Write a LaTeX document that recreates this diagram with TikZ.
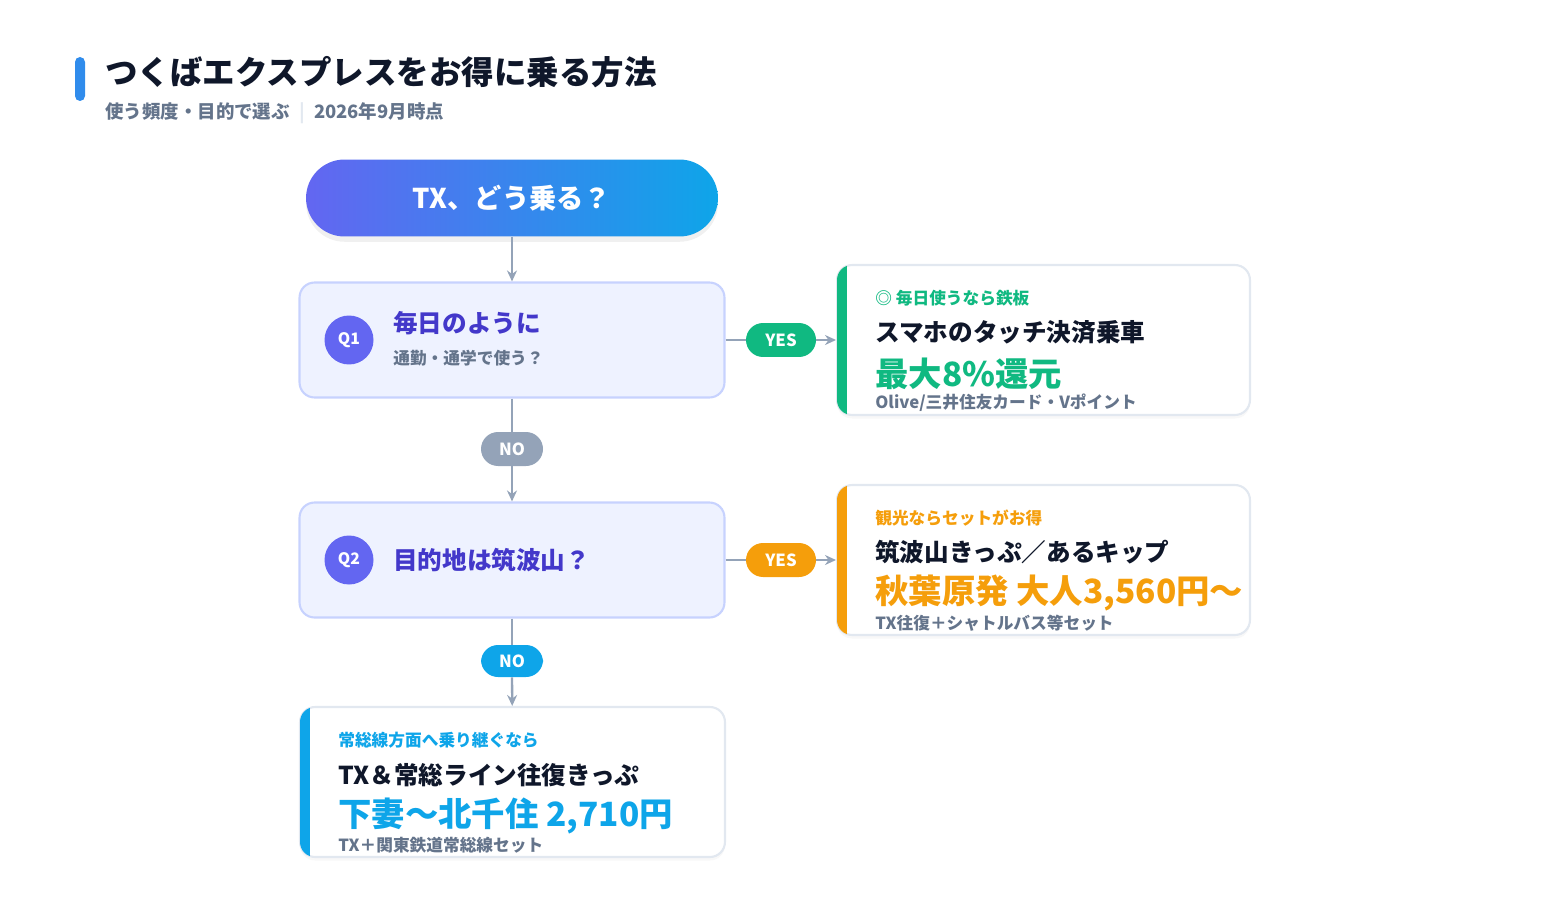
\documentclass[tikz,border=0pt]{standalone}
\usepackage{fontspec}
\setmainfont{Noto Sans CJK JP}
\usetikzlibrary{arrows.meta,positioning,shadows}
\definecolor{indigo}{HTML}{6366F1}
\definecolor{sky}{HTML}{0EA5E9}
\definecolor{slate}{HTML}{94A3B8}
\definecolor{ink}{HTML}{0F172A}
\definecolor{mute}{HTML}{64748B}
\definecolor{qfill}{HTML}{EEF2FF}
\definecolor{qline}{HTML}{C7D2FE}
\definecolor{qtext}{HTML}{4338CA}
\definecolor{green}{HTML}{10B981}
\definecolor{amber}{HTML}{F59E0B}
\definecolor{cardline}{HTML}{E2E8F0}
\tikzset{
    qbox/.style={draw=qline, fill=qfill, line width=1.2pt, rounded corners=0.3cm,
        minimum width=8.5cm, minimum height=2.3cm},
    qnum/.style={circle, fill=indigo, text=white, minimum size=0.98cm, inner sep=0pt,
        font=\fontsize{9}{9}\selectfont\bfseries},
    pill/.style={rounded corners=0.34cm, text=white, minimum height=0.68cm, inner sep=0pt,
        font=\fontsize{9.5}{9.5}\selectfont\bfseries},
    card/.style={draw=cardline, fill=white, line width=1.2pt, rounded corners=0.3cm,
        drop shadow={opacity=0.06, shadow xshift=0pt, shadow yshift=-2pt}},
    flow/.style={draw=slate, line width=1.3pt, -{Stealth[length=2.2mm, width=2mm]}},
    tag/.style={anchor=west, inner sep=0pt, font=\fontsize{9.5}{11}\selectfont\bfseries},
    head/.style={anchor=west, inner sep=0pt, text=ink, font=\fontsize{14}{16}\selectfont\bfseries},
    price/.style={anchor=west, inner sep=0pt, font=\fontsize{19}{21}\selectfont\bfseries},
    note/.style={anchor=west, inner sep=0pt, text=mute, font=\fontsize{9.5}{11}\selectfont\bfseries}
}
\begin{document}
\begin{tikzpicture}[x=0.02cm, y=-0.02cm]
    \useasboundingbox (0,0) rectangle (1550,912);
    % Title
    \fill[sky!60!indigo, rounded corners=0.1cm] (75,57) rectangle (85,101);
    \node[anchor=west, inner sep=0pt, text=ink, font=\fontsize{18.5}{20}\selectfont\bfseries] (title) at (105,72) {つくばエクスプレスをお得に乗る方法};
    \node[anchor=west, inner sep=0pt, text=mute, font=\fontsize{10.5}{12}\selectfont\bfseries] (sub) at (105,113) {使う頻度・目的で選ぶ\enspace\textcolor{cardline}{|}\enspace 2026年9月時点};

    % Start
    \node[rounded corners=0.77cm, left color=indigo, right color=sky, text=white,
        minimum width=8.24cm, minimum height=1.54cm, font=\fontsize{15.5}{17}\selectfont\bfseries,
        drop shadow={opacity=0.12, shadow xshift=0pt, shadow yshift=-3pt}] (start) at (512,198) {TX、どう乗る？};

    % Questions
    \node[qbox] (q1) at (512,340) {};
    \node[qnum] (n1) at (349,340) {Q1};
    \node[anchor=west, inner sep=0pt, text=qtext, font=\fontsize{14}{16}\selectfont\bfseries] (q1t) at (393,323) {毎日のように};
    \node[anchor=west, inner sep=0pt, text=mute, font=\fontsize{9.5}{11}\selectfont\bfseries] (q1s) at (393,358) {通勤・通学で使う？};

    \node[qbox] (q2) at (512,560) {};
    \node[qnum] (n2) at (349,560) {Q2};
    \node[anchor=west, inner sep=0pt, text=qtext, font=\fontsize{14}{16}\selectfont\bfseries] (q2t) at (393,560) {目的地は筑波山？};

    % Result cards
    \node[card, minimum width=8.26cm, minimum height=3cm] (c1) at (1043.5,340) {};
    \begin{scope}
        \clip[rounded corners=0.3cm] (837,265) rectangle (1250,415);
        \fill[green] (837,265) rectangle (847,415);
    \end{scope}
    \node[tag, text=green] (c1a) at (875,298) {◎ 毎日使うなら鉄板};
    \node[head] (c1b) at (875,332) {スマホのタッチ決済乗車};
    \node[price, text=green] (c1c) at (875,374) {最大8\%還元};
    \node[note] (c1d) at (875,403) {Olive/三井住友カード・Vポイント};

    \node[card, minimum width=8.26cm, minimum height=3cm] (c2) at (1043.5,560) {};
    \begin{scope}
        \clip[rounded corners=0.3cm] (837,485) rectangle (1250,635);
        \fill[amber] (837,485) rectangle (847,635);
    \end{scope}
    \node[tag, text=amber] (c2a) at (875,518) {観光ならセットがお得};
    \node[head] (c2b) at (875,552) {筑波山きっぷ／あるキップ};
    \node[price, text=amber] (c2c) at (875,593) {秋葉原発 大人3,560円～};
    \node[note] (c2d) at (875,623) {TX往復＋シャトルバス等セット};

    \node[card, minimum width=8.5cm, minimum height=3cm] (c3) at (512.5,782) {};
    \begin{scope}
        \clip[rounded corners=0.3cm] (300,707) rectangle (725,857);
        \fill[sky] (300,707) rectangle (310,857);
    \end{scope}
    \node[tag, text=sky] (c3a) at (338,740) {常総線方面へ乗り継ぐなら};
    \node[head] (c3b) at (338,775) {TX＆常総ライン往復きっぷ};
    \node[price, text=sky] (c3c) at (338,816) {下妻～北千住 2,710円};
    \node[note] (c3d) at (338,845) {TX＋関東鉄道常総線セット};

    % Edges
    \draw[flow] (start) -- (q1);
    \node[pill, fill=slate, minimum width=1.24cm] (no1) at (512,449) {NO};
    \draw[draw=slate, line width=1.3pt] (q1) -- (no1);
    \draw[flow] (no1) -- (q2);
    \node[pill, fill=sky, minimum width=1.24cm, minimum height=0.64cm] (no2) at (512,661) {NO};
    \draw[draw=slate, line width=1.3pt] (q2) -- (no2);
    \draw[flow] (no2) -- (c3);

    \node[pill, fill=green, minimum width=1.4cm] (yes1) at (781,340) {YES};
    \draw[draw=slate, line width=1.3pt] (q1) -- (yes1);
    \draw[flow] (yes1) -- (c1);
    \node[pill, fill=amber, minimum width=1.4cm] (yes2) at (781,560) {YES};
    \draw[draw=slate, line width=1.3pt] (q2) -- (yes2);
    \draw[flow] (yes2) -- (c2);
\end{tikzpicture}
\end{document}
